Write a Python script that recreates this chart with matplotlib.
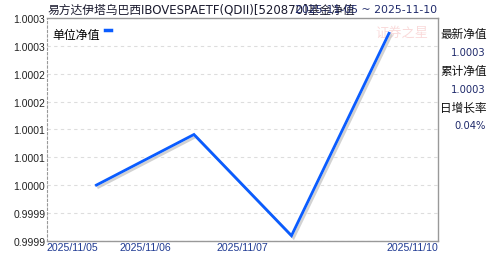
import matplotlib
matplotlib.use('Agg')
import matplotlib.pyplot as plt
import matplotlib.patheffects as pe

plt.rcParams['font.family'] = ['Noto Sans CJK SC', 'DejaVu Sans']

# data
dates = ['2025/11/05', '2025/11/06', '2025/11/07', '2025/11/10']
nav = [1.0000, 1.0001, 0.9999, 1.0003]
# tick values on the y axis (labels shown with 4 decimals)
y_ticks = [0.99989 + 0.000055 * i for i in range(9)]
x_label_pos = [-0.25, 0.5, 1.5, 3.24]
x_labels = ['2025/11/05', '2025/11/06', '2025/11/07', '2025/11/10']

title = '易方达伊塔乌巴西IBOVESPAETF(QDII)[520870]基金净值'
date_range = '2025-11-05 ~ 2025-11-10'
side_names = ['最新净值', '累计净值', '日增长率']
side_values = ['1.0003', '1.0003', '0.04%']

fig = plt.figure(figsize=(4.88, 2.55), dpi=100)
ax = fig.add_axes([0.0957, 0.052, 0.8013, 0.873])

x = list(range(len(nav)))
ax.plot(x, nav, color='#0a5cff', lw=2.0, solid_joinstyle='miter',
        path_effects=[pe.SimpleLineShadow(offset=(1.5, -1.5), shadow_color='#c0c0c0', alpha=0.7),
                      pe.Normal()], zorder=3)

ax.set_xlim(-0.51, 3.5)
ax.set_ylim(y_ticks[0], y_ticks[-1])
ax.set_yticks(y_ticks)
ax.set_yticklabels(['%.4f' % v for v in y_ticks], fontsize=7.5, color='#222222',
                   family='Liberation Sans')
ax.set_xticks(x_label_pos)
ax.set_xticklabels(x_labels, fontsize=7.6, color='#1f3a93', family='Liberation Sans')
ax.tick_params(length=0, pad=1)
ax.tick_params(axis='x', pad=1)

ax.grid(axis='y', color='#dddddd', ls=(0, (3, 3)), lw=0.8)
for s in ['top', 'right', 'bottom']:
    ax.spines[s].set_color('#999999')
    ax.spines[s].set_linewidth(1.0)
ax.spines['left'].set_linestyle((0, (2, 2)))
ax.spines['left'].set_color('#999999')

# legend-like label
ax.text(0.015, 0.955, '单位净值', transform=ax.transAxes, fontsize=8.6, va='top', ha='left')
ax.plot([0.149, 0.164], [0.945, 0.945], transform=ax.transAxes, color='#0a5cff', lw=2.5)

# watermark
ax.text(0.975, 0.935, '证券之星', transform=ax.transAxes, fontsize=9.5, color='#f5bcbc',
        ha='right', va='center', alpha=0.55, style='italic', zorder=1)

# title
fig.text(0.098, 0.962, title, fontsize=8.5, ha='left', va='center', color='#1a1a2e',
         family=['DejaVu Sans', 'Noto Sans CJK SC'])
fig.text(0.895, 0.962, date_range, fontsize=7.8, ha='right', va='center', color='#1f2a6b',
         family='DejaVu Sans')

# right info panel
name_y = [0.863, 0.718, 0.576]
for n, v, yy in zip(side_names, side_values, name_y):
    fig.text(0.902, yy, n, fontsize=8.4, ha='left', va='center', color='#111111')
    fig.text(0.995, yy - 0.071, v, fontsize=7.2, ha='right', va='center', color='#1f2a6b',
             family='DejaVu Sans')

fig.savefig('out.png', dpi=100)
